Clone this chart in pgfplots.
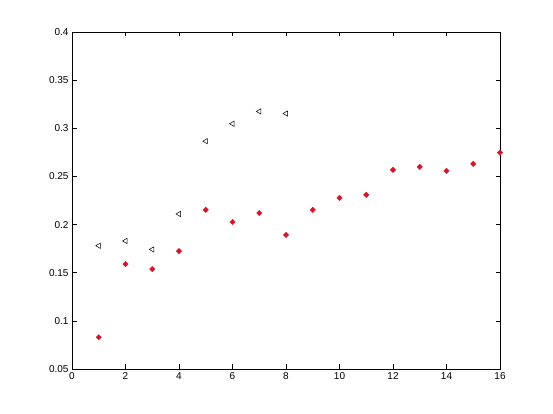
\documentclass[border=0pt]{standalone}
\usepackage{fontspec}
\setmainfont{Liberation Sans}
\usepackage{pgfplots}
\pgfplotsset{compat=1.18}
\begin{document}
\begin{tikzpicture}
\useasboundingbox (0,0) rectangle (553pt,414pt);
\begin{axis}[
  at={(72pt,45pt)}, anchor=south west,
  scale only axis, width=428pt, height=337pt,
  xmin=0, xmax=16, ymin=0.05, ymax=0.4,
  xtick={0,2,...,16},
  ytick={0.05,0.1,0.15,0.2,0.25,0.3,0.35,0.4},
  tick align=inside, major tick length=4.5pt,
  tick style={black, line width=0.6pt},
  axis line style={line width=0.6pt},
  ticklabel style={font=\fontsize{10}{12}\selectfont},
  /pgf/number format/assume math mode=true,
  yticklabel style={/pgf/number format/fixed, /pgf/number format/precision=2},
  xticklabel style={/pgf/number format/fixed},
  scaled y ticks=false,
]
\addplot[only marks, mark=triangle, mark size=3pt, mark options={rotate=90, black, line width=0.5pt}] coordinates {
(1,0.178) (2,0.183) (3,0.1742) (4,0.211) (5,0.2866) (6,0.3047) (7,0.3175) (8,0.3153)
};
\addplot[only marks, mark=square*, mark size=1.9pt, mark options={rotate=45}, color={rgb,255:red,215;green,20;blue,40}] coordinates {
(1,0.083) (2,0.159) (3,0.1538) (4,0.1725) (5,0.2152) (6,0.2027) (7,0.212) (8,0.1892)
(9,0.2152) (10,0.2277) (11,0.2308) (12,0.2568) (13,0.26) (14,0.2558) (15,0.263) (16,0.2747)
};
\end{axis}
\end{tikzpicture}
\end{document}
